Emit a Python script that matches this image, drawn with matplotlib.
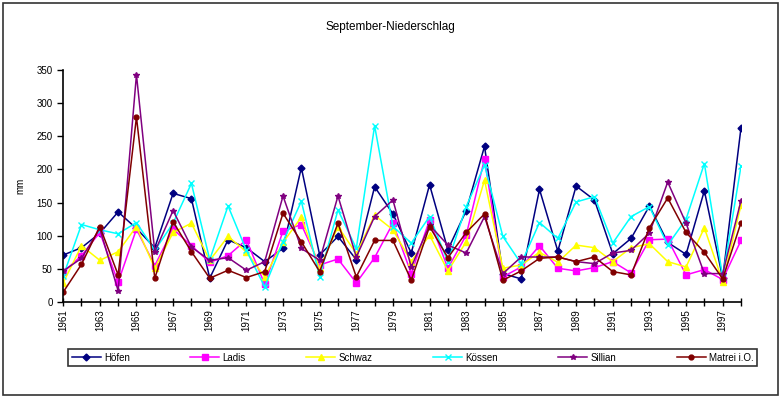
import matplotlib.pyplot as plt
from matplotlib.patches import Rectangle

plt.rcParams['font.family'] = ['Liberation Sans', 'DejaVu Sans']

years = list(range(1961, 1999))

hoefen = [71, 82, 104, 136, 111, 82, 164, 156, 36, 94, 82, 61, 81, 203, 71, 99, 64, 174,
          133, 74, 177, 79, 138, 235, 43, 35, 170, 77, 175, 154, 73, 96, 145, 90, 72, 168,
          36, 263]
ladis = [45, 70, 105, 30, 110, 55, 110, 85, 60, 70, 94, 27, 107, 117, 56, 65, 29, 67,
         119, 43, 124, 51, 101, 216, 38, 53, 85, 51, 47, 52, 61, 44, 94, 95, 41, 49,
         34, 93]
schwaz = [29, 85, 63, 76, 114, 51, 105, 119, 63, 99, 76, 38, 90, 128, 51, 114, 73, 131,
          109, 61, 101, 47, 91, 184, 51, 56, 75, 60, 86, 82, 61, 82, 88, 61, 53, 112,
          31, 146]
koessen = [39, 117, 109, 103, 120, 78, 119, 179, 64, 145, 78, 23, 91, 152, 38, 139, 81, 266,
           114, 89, 129, 61, 144, 207, 99, 58, 120, 96, 151, 159, 89, 129, 144, 86, 125, 209,
           38, 205]
sillian = [47, 66, 111, 17, 343, 76, 138, 83, 63, 67, 48, 61, 160, 81, 63, 160, 68, 129,
           154, 53, 116, 86, 74, 129, 43, 68, 68, 68, 61, 58, 74, 78, 104, 181, 119, 43,
           43, 153]
matrei = [15, 57, 114, 41, 279, 36, 121, 76, 36, 48, 37, 46, 134, 91, 46, 119, 38, 93,
          93, 33, 114, 67, 105, 133, 33, 47, 66, 68, 61, 68, 46, 41, 112, 157, 105, 75,
          35, 120]

series = [
    ('Höfen', hoefen, '#000080', 'D', 3.5),
    ('Ladis', ladis, '#FF00FF', 's', 4),
    ('Schwaz', schwaz, '#FFFF00', '^', 4.5),
    ('Kössen', koessen, '#00FFFF', 'x', 4),
    ('Sillian', sillian, '#800080', '*', 3.8),
    ('Matrei i.O.', matrei, '#800000', 'o', 3.5),
]

fig = plt.figure(figsize=(7.8, 3.98), dpi=100)
fig.patches.append(Rectangle((0.004, 0.008), 0.993, 0.985, transform=fig.transFigure,
                             fill=False, edgecolor='#333333', linewidth=1.2))

ax = fig.add_axes([0.081, 0.241, 0.869, 0.583])
for name, vals, col, mk, ms in series:
    ax.plot(years, vals, color=col, marker=mk, markersize=ms, linewidth=1.1,
            markeredgewidth=1, label=name)

ax.set_xlim(1961, 1998)
ax.set_ylim(0, 350)
ax.set_yticks(range(0, 351, 50))
ax.set_xticks(years)
ax.set_xticklabels([str(y) if (y - 1961) % 2 == 0 else '' for y in years],
                   rotation=90, fontsize=7)
ax.tick_params(axis='y', labelsize=7, length=4, direction='out', width=1)
ax.tick_params(axis='x', length=6, direction='inout', width=1, pad=2)
for s in ['top', 'right']:
    ax.spines[s].set_visible(False)
for s in ['left', 'bottom']:
    ax.spines[s].set_linewidth(1.2)
ax.set_ylabel('mm', fontsize=7, labelpad=8)

fig.text(0.5, 0.932, 'September-Niederschlag', ha='center', va='center', fontsize=8.5)

leg = fig.legend(loc='center', bbox_to_anchor=(0.087, 0.065, 0.884, 0.073), mode='expand',
                 ncol=6, fontsize=7, frameon=True, fancybox=False, borderaxespad=0,
                 handlelength=3, handletextpad=0.3)
leg.get_frame().set_edgecolor('black')
leg.get_frame().set_linewidth(1.2)

fig.savefig('out.png', dpi=100)
